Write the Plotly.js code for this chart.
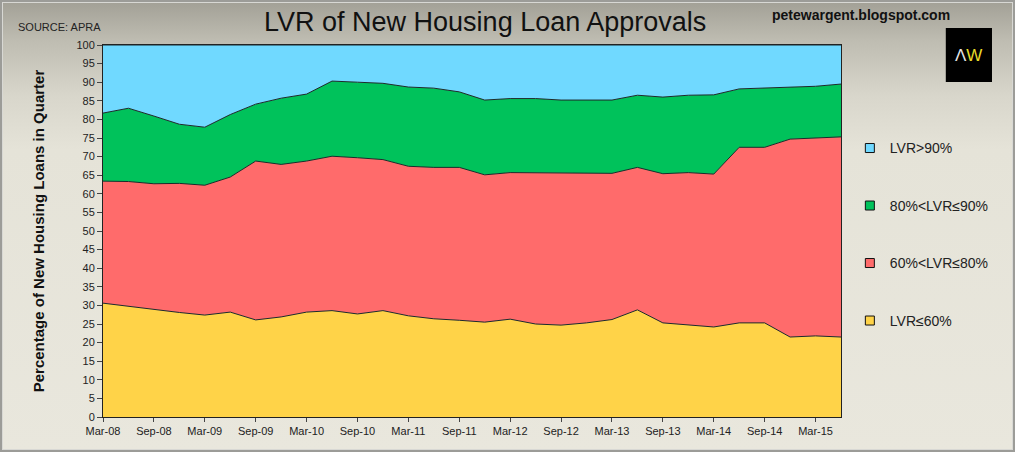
<!DOCTYPE html>
<html>
<head>
<meta charset="utf-8">
<script src="https://cdn.plot.ly/plotly-3.0.1.min.js"></script>
<style>
  body { margin: 0; padding: 0; }
  #chart {
    width: 1015px; height: 452px;
    background: linear-gradient(#a19f95 0px, #bebcb1 40px, #d8d6cb 95px, #e5e3d8 150px, #e9e7dd 452px);
    box-shadow: inset 0 0 0 2px #9c9c98, inset 0 0 0 3px #d8d8d4;
  }
</style>
</head>
<body>
<div id="chart"></div>
<script>
// quarterly, Mar-08 to Jun-15 (source: APRA)
var quarters = ["Mar-08", "Jun-08", "Sep-08", "Dec-08", "Mar-09", "Jun-09", "Sep-09", "Dec-09",
    "Mar-10", "Jun-10", "Sep-10", "Dec-10", "Mar-11", "Jun-11", "Sep-11", "Dec-11",
    "Mar-12", "Jun-12", "Sep-12", "Dec-12", "Mar-13", "Jun-13", "Sep-13", "Dec-13",
    "Mar-14", "Jun-14", "Sep-14", "Dec-14", "Mar-15", "Jun-15"];

var lvrUnder60 = [30.6, 29.7, 28.9, 28.1, 27.4, 28.2, 26.1, 26.9, 28.2, 28.6, 27.7, 28.6, 27.2, 26.4, 26.0,
    25.5, 26.3, 25.0, 24.7, 25.3, 26.2, 28.8, 25.3, 24.7, 24.2, 25.3, 25.3, 21.5, 21.8, 21.5];
var lvr60to80 = [32.8, 33.6, 33.8, 34.7, 34.9, 36.3, 42.7, 41.0, 40.6, 41.5, 42.0, 40.6, 40.2, 40.7, 41.1,
    39.6, 39.4, 40.7, 41.0, 40.2, 39.3, 38.3, 40.1, 41.0, 41.1, 47.2, 47.2, 53.2, 53.1, 53.8];
var lvr80to90 = [18.3, 19.7, 18.2, 15.9, 15.6, 16.8, 15.3, 17.8, 18.0, 20.2, 20.3, 20.5, 21.3, 21.3, 20.3,
    20.1, 19.9, 19.9, 19.5, 19.7, 19.7, 19.4, 20.6, 20.8, 21.3, 15.7, 15.9, 13.9, 14.0, 14.2];
var lvrOver90 = [18.3, 17.0, 19.1, 21.3, 22.1, 18.7, 15.9, 14.3, 13.2, 9.7, 10.0, 10.3, 11.3, 11.6, 12.6,
    14.8, 14.4, 14.4, 14.8, 14.8, 14.8, 13.5, 14.0, 13.5, 13.4, 11.8, 11.6, 11.4, 11.1, 10.5];

var seriesNames = ["LVR\u226460%", "60%<LVR\u226480%", "80%<LVR\u226490%", "LVR>90%"];
var seriesColors = ["#ffd348", "#ff6b6b", "#00c25b", "#70d9ff"];
var seriesValues = [lvrUnder60, lvr60to80, lvr80to90, lvrOver90];

var sans = "'Liberation Sans', Arial, sans-serif";

var data = [];
seriesValues.forEach(function (vals, i) {
    data.push({
        x: quarters,
        y: vals,
        name: seriesNames[i],
        stackgroup: "lvr",
        mode: "lines",
        line: { color: "#1c2a2a", width: 1 },
        fillcolor: seriesColors[i],
        showlegend: false,
        hoverinfo: "skip"
    });
});

// square legend keys, top to bottom
for (var k = seriesNames.length - 1; k >= 0; k--) {
    data.push({
        x: [null],
        y: [null],
        name: seriesNames[k],
        legendgroup: "g" + k,
        mode: "markers",
        marker: { symbol: "square", size: 9, color: seriesColors[k], line: { color: "#111", width: 1 } },
        showlegend: true
    });
}

var layout = {
    width: 1015,
    height: 452,
    margin: { l: 103, r: 174, t: 45, b: 35 },
    paper_bgcolor: "rgba(0,0,0,0)",
    plot_bgcolor: "rgba(0,0,0,0)",
    font: { family: sans, color: "#222" },
    title: {
        text: "LVR of New Housing Loan Approvals",
        font: { family: sans, size: 27, color: "#111" },
        x: 0.478, xanchor: "center",
        y: 0.952, yanchor: "middle"
    },
    xaxis: {
        type: "category",
        range: [0, quarters.length - 1],
        tickvals: quarters.filter(function (q, i) { return i % 2 === 0; }),
        ticks: "outside", ticklen: 4, tickcolor: "#444",
        tickfont: { family: sans, size: 11, color: "#222" },
        showline: true, mirror: true, linecolor: "#222", linewidth: 1,
        showgrid: false, zeroline: false
    },
    yaxis: {
        range: [0, 100],
        dtick: 5,
        ticks: "outside", ticklen: 5, tickcolor: "#444",
        tickfont: { family: sans, size: 11, color: "#222" },
        showline: true, mirror: true, linecolor: "#222", linewidth: 1,
        showgrid: false, zeroline: false,
        title: {
            text: "<b>Percentage of New Housing Loans in Quarter</b>",
            font: { family: sans, size: 15, color: "#111" },
            standoff: 28
        }
    },
    legend: {
        x: 1.012, xanchor: "left",
        y: 0.765, yanchor: "top",
        bgcolor: "rgba(0,0,0,0)",
        font: { family: sans, size: 14, color: "#222" },
        tracegroupgap: 36.3,
        itemwidth: 30,
        traceorder: "grouped"
    },
    shapes: [{
        type: "rect", xref: "paper", yref: "paper",
        x0: 1.142, x1: 1.2046, y0: 0.9005, y1: 1.0457,
        fillcolor: "#000", line: { width: 0 }
    }],
    annotations: [
        {
            text: "SOURCE: APRA", xref: "paper", yref: "paper",
            x: -0.1178, y: 1.0484, xanchor: "left", yanchor: "middle",
            showarrow: false, font: { family: sans, size: 11, color: "#222" }
        },
        {
            text: "<b>petewargent.blogspot.com</b>", xref: "paper", yref: "paper",
            x: 1.027, y: 1.081, xanchor: "center", yanchor: "middle",
            showarrow: false, font: { family: sans, size: 14, color: "#111" }
        },
        {
            text: "<span style='color:#e6e6e6'>\u039b</span><span style='color:#e8dc2a'>W</span>",
            xref: "paper", yref: "paper",
            x: 1.1733, y: 0.973, xanchor: "center", yanchor: "middle",
            showarrow: false, font: { family: sans, size: 17 }
        }
    ]
};

var config = { staticPlot: true };

Plotly.newPlot("chart", data, layout, config);
</script>
</body>
</html>
